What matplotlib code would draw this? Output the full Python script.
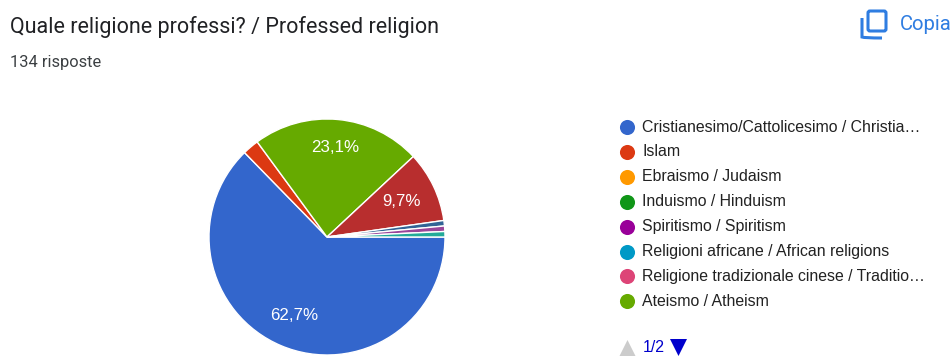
import matplotlib
matplotlib.use("Agg")
import matplotlib.pyplot as plt
from matplotlib.patches import FancyBboxPatch, PathPatch
from matplotlib.path import Path

plt.rcParams["font.family"] = ["Roboto", "DejaVu Sans"]

title = "Quale religione professi? / Professed religion"
subtitle = "134 risposte"

# answer counts, clockwise from 3 o'clock
slice_counts = [84, 3, 31, 13, 1, 1, 1]
slice_colors = ["#3366cc", "#dc3912", "#66aa00", "#b82e2e", "#316395", "#994499", "#22aa99"]

legend_labels = [
    "Cristianesimo/Cattolicesimo / Christia…",
    "Islam",
    "Ebraismo / Judaism",
    "Induismo / Hinduism",
    "Spiritismo / Spiritism",
    "Religioni africane / African religions",
    "Religione tradizionale cinese / Traditio…",
    "Ateismo / Atheism",
]
legend_colors = ["#3366cc", "#dc3912", "#ff9900", "#109618", "#990099", "#0099c6", "#dd4477", "#66aa00"]

W, H = 952, 356
ARIAL = "Liberation Sans"


def pct_label(pct):
    return f"{pct:.1f}%".replace(".", ",") if pct > 5 else ""


fig = plt.figure(figsize=(W / 100, H / 100), dpi=100)

# pixel-space overlay for text and icons
bg = fig.add_axes([0, 0, 1, 1])
bg.set_xlim(0, W)
bg.set_ylim(H, 0)
bg.axis("off")

bg.text(10, 27, title, fontsize=15.5, color="#202124", va="center", ha="left")
bg.text(10, 62, subtitle, fontsize=11.8, color="#3c4043", va="center", ha="left")

# copy icon
bg.add_patch(FancyBboxPatch((868, 11), 18, 20, boxstyle="round,pad=0,rounding_size=2",
                            fill=False, ec="#2f7de1", lw=2.2))
corner = Path([(862, 18), (862, 37), (864, 38), (882, 38)],
              [Path.MOVETO, Path.LINETO, Path.CURVE3, Path.CURVE3])
bg.add_patch(PathPatch(corner, fill=False, ec="#2f7de1", lw=2.2))
bg.text(900, 24, "Copia", fontsize=14.6, color="#2f7de1", va="center", ha="left")

# legend
for i, (label, color) in enumerate(zip(legend_labels, legend_colors)):
    y = 127 + i * 24.9
    bg.scatter([627], [y], s=118, color=color, linewidths=0)
    bg.text(642, y, label, fontsize=11.4, family=ARIAL, color="#222222", va="center", ha="left")

# legend pager
bg.scatter([627], [348], marker="^", s=150, color="#cccccc", linewidths=0)
bg.text(643, 348, "1/2", fontsize=11.4, family=ARIAL, color="#0000cc", va="center", ha="left")
bg.scatter([678], [347], marker="v", s=150, color="#0000cc", linewidths=0)

# pie centred at (327, 237) with radius 118
cx, cy, r = 327, 237, 118
ax = fig.add_axes([(cx - r) / W, 1 - (cy + r) / H, 2 * r / W, 2 * r / H])
wedges, texts, autotexts = ax.pie(
    slice_counts,
    colors=slice_colors,
    startangle=0,
    counterclock=False,
    radius=1,
    autopct=pct_label,
    pctdistance=0.72,
    wedgeprops={"edgecolor": "white", "linewidth": 1.0, "clip_on": False},
    textprops={"color": "white", "fontsize": 12.2, "family": ARIAL},
)
ax.set_xlim(-1, 1)
ax.set_ylim(-1, 1)

# the larger slices keep their labels a little further out or in
label_scale = {0: 1.0, 2: 1.06, 3: 0.97}
for i, scale in label_scale.items():
    x, y = autotexts[i].get_position()
    autotexts[i].set_position((x * scale, y * scale))

fig.savefig("out.png", dpi=100)
